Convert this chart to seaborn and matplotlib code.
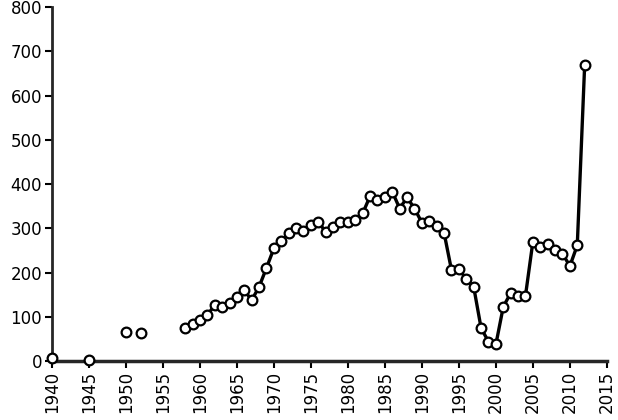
import numpy as np
import pandas as pd
import matplotlib
matplotlib.use("Agg")
import matplotlib.pyplot as plt
import seaborn as sns

# isolated early observations
early_years = [1940, 1945, 1950, 1952]
early_values = [8, 3, 65, 63]

# continuous series 1958-2012
years = list(range(1958, 2013))
values = [76, 85, 94, 104, 127, 123, 132, 144, 160, 138,
          168, 211, 255, 272, 289, 300, 294, 307, 315, 292,
          303, 315, 315, 320, 334, 373, 364, 371, 383, 345,
          370, 345, 313, 317, 305, 290, 206, 209, 185, 168,
          75, 44, 38, 123, 154, 147, 148, 270, 257, 264,
          252, 243, 215, 262, 670]

x_ticks = list(range(1940, 2016, 5))
y_ticks = list(range(0, 801, 100))

# each early point is its own unit so no line joins them
df = pd.DataFrame({
    "year": early_years + years,
    "value": early_values + values,
    "seg": list(range(len(early_years))) + [99] * len(years),
})

sns.set_style("white")
fig = plt.figure(figsize=(6.18, 4.2), dpi=100)
ax = fig.add_axes([0.084, 0.14, 0.898, 0.843])

sns.lineplot(data=df, x="year", y="value", units="seg", estimator=None,
             color="black", linewidth=2.4, marker="o", markersize=7,
             markerfacecolor="white", markeredgecolor="black",
             markeredgewidth=1.6, ax=ax, clip_on=False, zorder=3)

ax.set_xlim(1940, 2015)
ax.set_ylim(0, 800)
ax.set_xticks(x_ticks)
ax.set_yticks(y_ticks)
ax.set_xticklabels([str(t) for t in x_ticks], rotation=90, fontsize=12)
ax.set_yticklabels([str(t) for t in y_ticks], fontsize=12)
ax.set_xlabel("")
ax.set_ylabel("")

sns.despine(ax=ax)
ax.spines["left"].set_linewidth(2)
ax.spines["bottom"].set_linewidth(2.5)
ax.tick_params(axis="both", direction="out", length=5, width=1.5,
               bottom=True, left=True,
               color="black", labelcolor="black", pad=2)

fig.savefig("out.png", dpi=100)
